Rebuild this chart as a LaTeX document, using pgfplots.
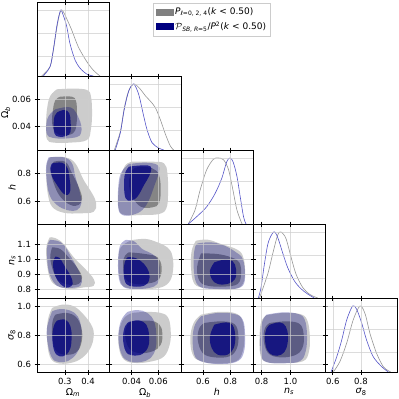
\documentclass[border=0pt]{standalone}
\usepackage{fontspec}
\setmainfont{DejaVu Sans}
\usepackage{pgfplots}
\pgfplotsset{compat=1.18}
\definecolor{gbase}{RGB}{100,100,100}
\definecolor{gpatch}{RGB}{128,128,128}
\definecolor{navyc}{RGB}{0,0,128}
\definecolor{gline}{RGB}{150,150,150}
\definecolor{bline}{RGB}{85,85,200}
\definecolor{gridc}{RGB}{205,205,205}

\pgfplotsset{
  panel/.style={width=72pt, height=74pt, scale only axis, anchor=north west,
    axis line style={line width=0.9pt}, tick align=center,
    xtick pos=both, ytick pos=both, major tick length=5pt,
    tick style={black, line width=0.7pt},
    scaled ticks=false,
    grid=major, grid style={gridc, line width=0.5pt, opacity=0.7},
    axis on top,
    tick label style={font=\fontsize{8.5}{10}\selectfont},
    label style={font=\fontsize{9.5}{11}\selectfont},
    xlabel shift=-3pt, ylabel shift=-5pt,
    xticklabels={}, yticklabels={}},
  go/.style={draw=none, fill=gbase, fill opacity=0.33, smooth, tension=0.65},
  gi/.style={draw=none, fill=gbase, fill opacity=0.68, smooth, tension=0.65},
  bo/.style={draw=none, fill=navyc, fill opacity=0.3, smooth, tension=0.65},
  bi/.style={draw=none, fill=navyc, fill opacity=0.75, smooth, tension=0.65},
  gl/.style={gline, line width=0.6pt, smooth},
  bl/.style={bline, line width=0.6pt, smooth},
  c1/.style={xmin=0.18, xmax=0.49, xtick={0.3,0.4}},
  c2/.style={xmin=0.023, xmax=0.077, xtick={0.04,0.06}},
  c3/.style={xmin=0.44, xmax=0.965, xtick={0.6,0.8}},
  c4/.style={xmin=0.74, xmax=1.24, xtick={0.8,1.0}},
  c5/.style={xmin=0.545, xmax=1.055, xtick={0.6,0.8}},
  r2/.style={ymin=0.023, ymax=0.077, ytick={0.04,0.06}},
  r3/.style={ymin=0.44, ymax=0.965, ytick={0.6,0.8}},
  r4/.style={ymin=0.74, ymax=1.24, ytick={0.8,0.9,1.0,1.1}},
  r5/.style={ymin=0.545, ymax=1.055, ytick={0.6,0.8,1.0}},
  dg/.style={ymin=0, ymax=1.12, ytick={0.3,0.65,1.0}, ytick style={draw=none}},
  bx1/.style={xticklabels={0.3,0.4}, xlabel={Ω\textsubscript{\textit{m}}}},
  bx2/.style={xticklabels={0.04,0.06}, xlabel={Ω\textsubscript{\textit{b}}}},
  bx3/.style={xticklabels={0.6,0.8}, xlabel={\textit{h}}},
  bx4/.style={xticklabels={0.8,1.0}, xlabel={\textit{n}\textsubscript{\textit{s}}}},
  bx5/.style={xticklabels={0.6,0.8}, xlabel={\textit{σ}\textsubscript{8}}},
  ly2/.style={yticklabels={0.04,0.06}, ylabel={Ω\textsubscript{\textit{b}}}},
  ly3/.style={yticklabels={0.6,0.8}, ylabel={\textit{h}}},
  ly4/.style={yticklabels={0.8,0.9,1.0,1.1}, ylabel={\textit{n}\textsubscript{\textit{s}}}},
  ly5/.style={yticklabels={0.6,0.8,1.0}, ylabel={\textit{σ}\textsubscript{8}}},
}

\begin{document}
\begin{tikzpicture}
\path[use as bounding box] (0pt,0pt) rectangle (399pt,-399pt);

% ---- row 1: Omega_m marginal + legend
\begin{axis}[panel, c1, dg, at={(37pt,-2pt)},
  legend style={at={(1.61,0.986)}, anchor=north west, draw=black!20,
    font=\fontsize{9}{11}\selectfont, row sep=1.5pt,
    inner sep=2.5pt},
  legend cell align=left]
\addlegendimage{area legend, draw=gpatch, fill=gpatch}
\addlegendentry{\textit{P}\textsubscript{\textit{ℓ}=0, 2, 4}(\textit{k} < 0.50)}
\addlegendimage{area legend, draw=navyc, fill=navyc}
\addlegendentry{$\mathcal{P}$\textsubscript{\textit{SB}, \textit{R}=5}/\textit{P}\textsuperscript{2}(\textit{k} < 0.50)}
\addplot[gl, forget plot] coordinates {(0.200,0)(0.236,0.14)(0.250,0.38)(0.265,0.72)(0.276,0.92)(0.286,1.0)(0.300,0.93)(0.310,0.85)(0.329,0.70)(0.358,0.44)(0.394,0.22)(0.422,0.09)(0.451,0)};
\addplot[bl, forget plot] coordinates {(0.207,0)(0.236,0.14)(0.250,0.39)(0.265,0.75)(0.275,0.92)(0.283,1.0)(0.293,0.92)(0.308,0.75)(0.322,0.49)(0.344,0.24)(0.365,0.12)(0.394,0.03)(0.422,0)};
\end{axis}

% ---- row 2
\begin{axis}[panel, c1, r2, ly2, at={(37pt,-76pt)}]
\addplot[go] coordinates {(0.266,0.0673)(0.338,0.0678)(0.395,0.0668)(0.412,0.0624)(0.417,0.0502)(0.412,0.0381)(0.395,0.0303)(0.324,0.0284)(0.252,0.0284)(0.223,0.0308)(0.219,0.0405)(0.223,0.0527)(0.237,0.0624)(0.266,0.0673)};
\addplot[gi] coordinates {(0.280,0.0619)(0.331,0.0619)(0.348,0.0588)(0.352,0.0502)(0.349,0.0405)(0.335,0.0352)(0.295,0.0337)(0.259,0.0357)(0.245,0.0430)(0.249,0.0527)(0.259,0.0595)(0.280,0.0619)};
\addplot[bo] coordinates {(0.259,0.0527)(0.309,0.0544)(0.338,0.0527)(0.359,0.0466)(0.371,0.0405)(0.369,0.0352)(0.352,0.0325)(0.295,0.0313)(0.245,0.0320)(0.223,0.0344)(0.220,0.0417)(0.230,0.0478)(0.259,0.0527)};
\addplot[bi] coordinates {(0.269,0.0507)(0.298,0.0522)(0.319,0.0498)(0.325,0.0430)(0.324,0.0361)(0.306,0.0332)(0.273,0.0327)(0.255,0.0352)(0.252,0.0430)(0.256,0.0478)(0.269,0.0507)};
\end{axis}
\begin{axis}[panel, c2, dg, at={(109pt,-76pt)}]
\addplot[gl] coordinates {(0.027,0)(0.0315,0.28)(0.0345,0.64)(0.0378,0.9)(0.0418,1.0)(0.0465,0.92)(0.0503,0.82)(0.054,0.74)(0.0578,0.64)(0.0615,0.46)(0.0653,0.24)(0.069,0.06)(0.0715,0)};
\addplot[bl] coordinates {(0.0277,0)(0.0315,0.26)(0.0345,0.62)(0.0378,0.89)(0.0415,1.0)(0.0453,0.84)(0.0485,0.56)(0.0515,0.31)(0.0553,0.11)(0.0603,0.03)(0.064,0)};
\end{axis}

% ---- row 3
\begin{axis}[panel, c1, r3, ly3, at={(37pt,-150pt)}]
\addplot[go] coordinates {(0.237,0.913)(0.302,0.913)(0.345,0.870)(0.381,0.752)(0.417,0.658)(0.435,0.587)(0.424,0.527)(0.367,0.516)(0.295,0.520)(0.245,0.563)(0.226,0.658)(0.220,0.776)(0.223,0.870)(0.237,0.913)};
\addplot[gi] coordinates {(0.252,0.882)(0.302,0.882)(0.331,0.799)(0.359,0.705)(0.374,0.622)(0.359,0.575)(0.324,0.575)(0.280,0.634)(0.252,0.729)(0.240,0.823)(0.252,0.882)};
\addplot[bo] coordinates {(0.230,0.913)(0.295,0.913)(0.331,0.870)(0.345,0.776)(0.364,0.669)(0.371,0.587)(0.352,0.539)(0.309,0.539)(0.266,0.575)(0.237,0.634)(0.223,0.729)(0.219,0.847)(0.230,0.913)};
\addplot[bi] coordinates {(0.245,0.870)(0.288,0.875)(0.312,0.835)(0.321,0.752)(0.324,0.681)(0.312,0.646)(0.292,0.658)(0.266,0.717)(0.245,0.776)(0.237,0.835)(0.245,0.870)};
\end{axis}
\begin{axis}[panel, c2, r3, at={(109pt,-150pt)}]
\addplot[go] coordinates {(0.0405,0.882)(0.0555,0.882)(0.0643,0.870)(0.0668,0.799)(0.0673,0.658)(0.066,0.551)(0.0605,0.511)(0.048,0.504)(0.0355,0.504)(0.0305,0.539)(0.030,0.658)(0.0318,0.776)(0.0355,0.859)(0.0405,0.882)};
\addplot[gi] coordinates {(0.0468,0.847)(0.0555,0.835)(0.0605,0.788)(0.0618,0.681)(0.0605,0.587)(0.0555,0.558)(0.0468,0.563)(0.0405,0.634)(0.038,0.729)(0.0405,0.823)(0.0468,0.847)};
\addplot[bo] coordinates {(0.038,0.866)(0.0505,0.875)(0.0593,0.859)(0.0605,0.811)(0.0568,0.705)(0.053,0.610)(0.048,0.539)(0.0405,0.504)(0.033,0.504)(0.030,0.551)(0.0298,0.681)(0.0318,0.799)(0.038,0.866)};
\addplot[bi] coordinates {(0.038,0.847)(0.048,0.856)(0.0543,0.847)(0.0535,0.788)(0.0493,0.717)(0.0443,0.634)(0.0393,0.606)(0.0355,0.622)(0.0343,0.705)(0.035,0.799)(0.038,0.847)};
\end{axis}
\begin{axis}[panel, c3, dg, at={(181pt,-150pt)}]
\addplot[gl] coordinates {(0.493,0)(0.542,0.21)(0.579,0.51)(0.627,0.82)(0.676,0.98)(0.712,1.0)(0.751,0.97)(0.787,0.82)(0.819,0.51)(0.848,0.21)(0.885,0)};
\addplot[bl] coordinates {(0.493,0)(0.554,0.11)(0.627,0.26)(0.688,0.46)(0.737,0.69)(0.773,0.94)(0.797,1.0)(0.82,0.94)(0.848,0.72)(0.872,0.41)(0.896,0.11)(0.914,0)};
\end{axis}

% ---- row 4
\begin{axis}[panel, c1, r4, ly4, at={(37pt,-224pt)}]
\addplot[go] coordinates {(0.235,1.150)(0.259,1.145)(0.295,1.105)(0.338,1.015)(0.388,0.936)(0.424,0.868)(0.424,0.823)(0.381,0.812)(0.324,0.801)(0.266,0.823)(0.237,0.868)(0.223,0.970)(0.220,1.082)(0.235,1.150)};
\addplot[gi] coordinates {(0.245,1.082)(0.280,1.071)(0.316,1.015)(0.352,0.947)(0.374,0.880)(0.359,0.835)(0.316,0.830)(0.273,0.857)(0.249,0.925)(0.237,1.015)(0.245,1.082)};
\addplot[bo] coordinates {(0.237,1.132)(0.266,1.127)(0.295,1.100)(0.324,1.026)(0.352,0.947)(0.371,0.880)(0.367,0.823)(0.324,0.808)(0.280,0.812)(0.252,0.846)(0.230,0.925)(0.223,1.037)(0.226,1.105)(0.237,1.132)};
\addplot[bi] coordinates {(0.259,1.019)(0.278,1.010)(0.298,0.958)(0.324,0.891)(0.334,0.835)(0.316,0.812)(0.295,0.817)(0.269,0.857)(0.252,0.925)(0.249,0.981)(0.259,1.019)};
\end{axis}
\begin{axis}[panel, c2, r4, at={(109pt,-224pt)}]
\addplot[go] coordinates {(0.0405,1.132)(0.0505,1.139)(0.0593,1.116)(0.0668,1.082)(0.0705,1.026)(0.071,0.925)(0.068,0.846)(0.0605,0.808)(0.048,0.801)(0.0368,0.808)(0.0318,0.846)(0.030,0.970)(0.0318,1.082)(0.0405,1.132)};
\addplot[gi] coordinates {(0.038,1.049)(0.0505,1.037)(0.0593,1.015)(0.0625,0.947)(0.0605,0.868)(0.053,0.839)(0.043,0.835)(0.0355,0.868)(0.0335,0.970)(0.035,1.026)(0.038,1.049)};
\addplot[bo] coordinates {(0.0355,1.132)(0.0418,1.123)(0.048,1.071)(0.0555,1.037)(0.060,0.992)(0.061,0.902)(0.0593,0.835)(0.053,0.808)(0.043,0.801)(0.0343,0.812)(0.0305,0.868)(0.0298,0.992)(0.0313,1.094)(0.0355,1.132)};
\addplot[bi] coordinates {(0.0368,1.015)(0.043,1.010)(0.0493,0.970)(0.053,0.913)(0.053,0.857)(0.0493,0.823)(0.0418,0.817)(0.036,0.835)(0.034,0.902)(0.0348,0.981)(0.0368,1.015)};
\end{axis}
\begin{axis}[panel, c3, r4, at={(181pt,-224pt)}]
\addplot[go] coordinates {(0.549,1.127)(0.634,1.134)(0.732,1.105)(0.841,1.071)(0.890,1.026)(0.907,0.925)(0.890,0.835)(0.829,0.801)(0.707,0.801)(0.586,0.812)(0.532,0.846)(0.513,0.947)(0.518,1.060)(0.549,1.127)};
\addplot[gi] coordinates {(0.586,1.042)(0.707,1.037)(0.805,1.015)(0.865,0.981)(0.878,0.902)(0.853,0.835)(0.756,0.817)(0.634,0.823)(0.574,0.857)(0.557,0.947)(0.586,1.042)};
\addplot[bo] coordinates {(0.562,1.109)(0.659,1.116)(0.756,1.094)(0.841,1.049)(0.890,1.004)(0.907,0.902)(0.890,0.823)(0.805,0.799)(0.683,0.801)(0.586,0.812)(0.542,0.868)(0.532,0.992)(0.542,1.082)(0.562,1.109)};
\addplot[bi] coordinates {(0.683,0.981)(0.756,0.999)(0.817,0.988)(0.841,0.936)(0.834,0.868)(0.780,0.835)(0.707,0.835)(0.664,0.868)(0.651,0.925)(0.683,0.981)};
\end{axis}
\begin{axis}[panel, c4, dg, at={(253pt,-224pt)}]
\addplot[gl] coordinates {(0.785,0)(0.842,0.36)(0.877,0.67)(0.911,0.95)(0.934,1.0)(0.969,0.9)(1.004,0.62)(1.039,0.36)(1.085,0.16)(1.131,0.06)(1.166,0.02)(1.189,0)};
\addplot[bl] coordinates {(0.777,0)(0.796,0.16)(0.819,0.51)(0.846,0.84)(0.884,1.0)(0.911,0.92)(0.948,0.67)(0.981,0.46)(1.027,0.26)(1.073,0.14)(1.12,0.06)(1.166,0)};
\end{axis}

% ---- row 5
\begin{axis}[panel, c1, r5, ly5, bx1, at={(37pt,-298pt)}]
\addplot[go] coordinates {(0.245,0.986)(0.288,1.009)(0.338,0.998)(0.381,0.940)(0.417,0.860)(0.424,0.791)(0.410,0.710)(0.374,0.642)(0.324,0.607)(0.266,0.607)(0.235,0.653)(0.223,0.779)(0.227,0.906)(0.245,0.986)};
\addplot[gi] coordinates {(0.259,0.940)(0.309,0.952)(0.352,0.917)(0.374,0.825)(0.369,0.733)(0.345,0.676)(0.295,0.665)(0.259,0.699)(0.245,0.802)(0.247,0.894)(0.259,0.940)};
\addplot[bo] coordinates {(0.245,0.963)(0.280,0.979)(0.324,0.968)(0.355,0.929)(0.371,0.848)(0.369,0.756)(0.352,0.676)(0.316,0.623)(0.273,0.614)(0.245,0.642)(0.227,0.733)(0.223,0.848)(0.245,0.963)};
\addplot[bi] coordinates {(0.266,0.899)(0.302,0.906)(0.324,0.860)(0.329,0.791)(0.324,0.710)(0.306,0.665)(0.278,0.653)(0.255,0.688)(0.246,0.779)(0.252,0.860)(0.266,0.899)};
\end{axis}
\begin{axis}[panel, c2, r5, bx2, at={(109pt,-298pt)}]
\addplot[go] coordinates {(0.0405,0.952)(0.0505,0.959)(0.0618,0.952)(0.0675,0.917)(0.0693,0.825)(0.0685,0.733)(0.0643,0.653)(0.0555,0.619)(0.043,0.607)(0.0343,0.630)(0.0305,0.710)(0.0305,0.825)(0.0343,0.917)(0.0405,0.952)};
\addplot[gi] coordinates {(0.0405,0.894)(0.053,0.899)(0.0605,0.876)(0.063,0.814)(0.0618,0.733)(0.0555,0.687)(0.0455,0.676)(0.038,0.710)(0.035,0.802)(0.0368,0.871)(0.0405,0.894)};
\addplot[bo] coordinates {(0.0368,0.959)(0.0443,0.972)(0.0518,0.952)(0.0568,0.894)(0.0585,0.802)(0.058,0.710)(0.0543,0.642)(0.0468,0.614)(0.038,0.619)(0.0325,0.665)(0.030,0.779)(0.0318,0.894)(0.0368,0.959)};
\addplot[bi] coordinates {(0.038,0.890)(0.0455,0.901)(0.051,0.871)(0.053,0.802)(0.0525,0.722)(0.048,0.669)(0.0405,0.660)(0.0355,0.688)(0.0335,0.779)(0.035,0.860)(0.038,0.890)};
\end{axis}
\begin{axis}[panel, c3, r5, bx3, at={(181pt,-298pt)}]
\addplot[go] coordinates {(0.586,0.940)(0.707,0.959)(0.829,0.952)(0.885,0.906)(0.902,0.802)(0.890,0.688)(0.841,0.619)(0.707,0.603)(0.586,0.619)(0.525,0.665)(0.508,0.779)(0.532,0.883)(0.586,0.940)};
\addplot[gi] coordinates {(0.610,0.883)(0.732,0.894)(0.829,0.876)(0.858,0.802)(0.848,0.710)(0.793,0.653)(0.683,0.646)(0.598,0.676)(0.562,0.768)(0.574,0.848)(0.610,0.883)};
\addplot[bo] coordinates {(0.586,0.929)(0.707,0.952)(0.829,0.945)(0.890,0.906)(0.907,0.802)(0.897,0.676)(0.841,0.614)(0.707,0.600)(0.586,0.619)(0.537,0.665)(0.525,0.779)(0.542,0.871)(0.586,0.929)};
\addplot[bi] coordinates {(0.683,0.871)(0.768,0.887)(0.817,0.867)(0.836,0.791)(0.824,0.710)(0.780,0.665)(0.707,0.665)(0.664,0.710)(0.651,0.791)(0.683,0.871)};
\end{axis}
\begin{axis}[panel, c4, r5, bx4, at={(253pt,-298pt)}]
\addplot[go] coordinates {(0.833,0.936)(0.948,0.952)(1.064,0.945)(1.115,0.906)(1.134,0.802)(1.129,0.688)(1.087,0.619)(0.948,0.607)(0.833,0.614)(0.791,0.665)(0.786,0.802)(0.798,0.894)(0.833,0.936)};
\addplot[gi] coordinates {(0.856,0.883)(0.972,0.894)(1.064,0.876)(1.092,0.802)(1.083,0.710)(1.029,0.660)(0.925,0.646)(0.844,0.676)(0.814,0.768)(0.823,0.848)(0.856,0.883)};
\addplot[bo] coordinates {(0.833,0.940)(0.948,0.956)(1.053,0.945)(1.099,0.906)(1.115,0.802)(1.106,0.688)(1.064,0.619)(0.948,0.605)(0.833,0.614)(0.796,0.665)(0.791,0.802)(0.805,0.894)(0.833,0.940)};
\addplot[bi] coordinates {(0.856,0.871)(0.925,0.887)(0.967,0.860)(0.983,0.791)(0.972,0.710)(0.937,0.665)(0.879,0.660)(0.837,0.699)(0.823,0.779)(0.833,0.843)(0.856,0.871)};
\end{axis}
\begin{axis}[panel, c5, dg, bx5, at={(325pt,-298pt)}]
\addplot[gl] coordinates {(0.604,0)(0.651,0.16)(0.699,0.44)(0.745,0.79)(0.793,1.0)(0.829,0.88)(0.864,0.58)(0.911,0.28)(0.958,0.08)(0.994,0.02)(1.01,0)};
\addplot[bl] coordinates {(0.588,0)(0.628,0.23)(0.663,0.48)(0.699,0.79)(0.741,1.0)(0.769,0.95)(0.805,0.74)(0.84,0.48)(0.887,0.23)(0.947,0.08)(0.994,0)};
\end{axis}
\end{tikzpicture}
\end{document}
